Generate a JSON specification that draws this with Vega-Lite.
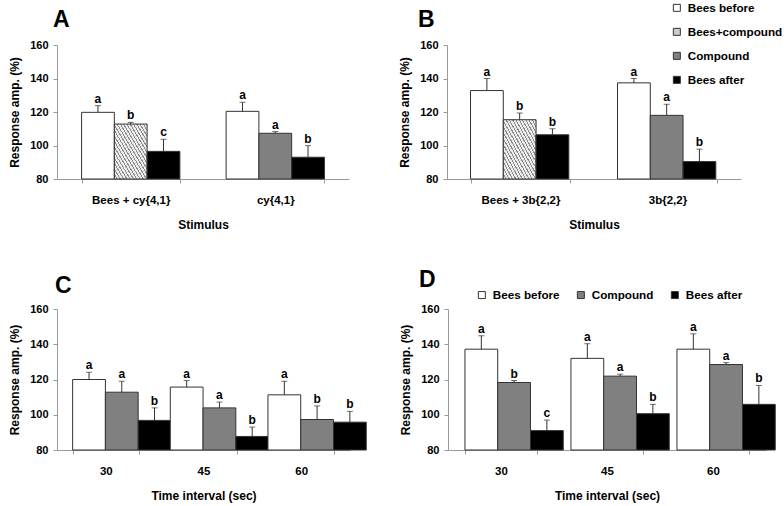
{
  "$schema": "https://vega.github.io/schema/vega-lite/v6.json",
  "padding": {"left": 8, "top": 2, "right": 0, "bottom": 5},
  "background": "white",
  "datasets": {
    "bars": [
      {"panel": "A", "group": "Bees + cy{4,1}", "series": "Bees before", "phase": "Before", "value": 119.8, "upper": 123.8, "label": "a"},
      {"panel": "A", "group": "Bees + cy{4,1}", "series": "Bees+compound", "phase": "During", "value": 112.8, "upper": 113.8, "label": "b"},
      {"panel": "A", "group": "Bees + cy{4,1}", "series": "Bees after", "phase": "After", "value": 96.5, "upper": 103.7, "label": "c"},
      {"panel": "A", "group": "cy{4,1}", "series": "Bees before", "phase": "Before", "value": 120.4, "upper": 125.8, "label": "a"},
      {"panel": "A", "group": "cy{4,1}", "series": "Compound", "phase": "During", "value": 107.3, "upper": 108.3, "label": "a"},
      {"panel": "A", "group": "cy{4,1}", "series": "Bees after", "phase": "After", "value": 93.0, "upper": 99.9, "label": "b"},
      {"panel": "B", "group": "Bees + 3b{2,2}", "series": "Bees before", "phase": "Before", "value": 132.8, "upper": 140.0, "label": "a"},
      {"panel": "B", "group": "Bees + 3b{2,2}", "series": "Bees+compound", "phase": "During", "value": 115.4, "upper": 119.4, "label": "b"},
      {"panel": "B", "group": "Bees + 3b{2,2}", "series": "Bees after", "phase": "After", "value": 106.4, "upper": 110.0, "label": "b"},
      {"panel": "B", "group": "3b{2,2}", "series": "Bees before", "phase": "Before", "value": 137.4, "upper": 140.0, "label": "a"},
      {"panel": "B", "group": "3b{2,2}", "series": "Compound", "phase": "During", "value": 118.0, "upper": 124.6, "label": "a"},
      {"panel": "B", "group": "3b{2,2}", "series": "Bees after", "phase": "After", "value": 90.4, "upper": 97.8, "label": "b"},
      {"panel": "C", "group": "30", "series": "Bees before", "phase": "Before", "value": 120.0, "upper": 124.1, "label": "a"},
      {"panel": "C", "group": "30", "series": "Compound", "phase": "During", "value": 112.8, "upper": 119.0, "label": "a"},
      {"panel": "C", "group": "30", "series": "Bees after", "phase": "After", "value": 96.8, "upper": 103.9, "label": "b"},
      {"panel": "C", "group": "45", "series": "Bees before", "phase": "Before", "value": 115.7, "upper": 119.4, "label": "a"},
      {"panel": "C", "group": "45", "series": "Compound", "phase": "During", "value": 103.9, "upper": 107.2, "label": "a"},
      {"panel": "C", "group": "45", "series": "Bees after", "phase": "After", "value": 87.7, "upper": 93.0, "label": "b"},
      {"panel": "C", "group": "60", "series": "Bees before", "phase": "Before", "value": 111.3, "upper": 119.0, "label": "a"},
      {"panel": "C", "group": "60", "series": "Compound", "phase": "During", "value": 97.3, "upper": 105.0, "label": "b"},
      {"panel": "C", "group": "60", "series": "Bees after", "phase": "After", "value": 95.8, "upper": 101.9, "label": "b"},
      {"panel": "D", "group": "30", "series": "Bees before", "phase": "Before", "value": 137.2, "upper": 144.8, "label": "a"},
      {"panel": "D", "group": "30", "series": "Compound", "phase": "During", "value": 118.3, "upper": 119.4, "label": "b"},
      {"panel": "D", "group": "30", "series": "Bees after", "phase": "After", "value": 91.0, "upper": 97.0, "label": "c"},
      {"panel": "D", "group": "45", "series": "Bees before", "phase": "Before", "value": 132.0, "upper": 140.3, "label": "a"},
      {"panel": "D", "group": "45", "series": "Compound", "phase": "During", "value": 121.9, "upper": 123.0, "label": "a"},
      {"panel": "D", "group": "45", "series": "Bees after", "phase": "After", "value": 100.6, "upper": 105.9, "label": "b"},
      {"panel": "D", "group": "60", "series": "Bees before", "phase": "Before", "value": 137.2, "upper": 145.9, "label": "a"},
      {"panel": "D", "group": "60", "series": "Compound", "phase": "During", "value": 128.5, "upper": 129.6, "label": "a"},
      {"panel": "D", "group": "60", "series": "Bees after", "phase": "After", "value": 105.9, "upper": 116.6, "label": "b"}
    ]
  },
  "config": {
    "font": "Liberation Sans",
    "view": {"stroke": null},
    "title": {"font": "Liberation Sans", "fontSize": 23, "fontWeight": "bold", "anchor": "start", "frame": "group", "color": "#000000"},
    "axis": {"labelFont": "Liberation Sans", "labelFontWeight": "bold", "labelColor": "#000000", "titleFont": "Liberation Sans", "titleFontWeight": "bold", "titleColor": "#000000", "titleFontSize": 12, "domainColor": "#999999", "tickColor": "#999999", "grid": false, "tickSize": 4},
    "axisY": {"labelFontSize": 11, "labelPadding": 5, "titlePadding": 8, "values": [80, 100, 120, 140, 160]},
    "axisX": {"labelFontSize": 11.5, "labelPadding": 11, "titlePadding": 14, "labelAngle": 0, "tickBand": "extent"},
    "legend": {"labelFont": "Liberation Sans", "labelFontWeight": "bold", "labelFontSize": 11.7, "labelColor": "#000000", "symbolType": "square", "symbolSize": 49, "symbolStrokeColor": "#333333", "symbolStrokeWidth": 1, "labelOffset": 5}
  },
  "resolve": {"scale": {"fill": "independent"}, "legend": {"fill": "independent"}},
  "bounds": "flush",
  "spacing": 264,
  "vconcat": [
    {
      "bounds": "flush",
      "spacing": 98,
      "resolve": {"scale": {"fill": "independent"}, "legend": {"fill": "independent"}},
      "hconcat": [
        {
          "width": 292, "height": 134,
          "title": {"text": "A", "dx": -4, "offset": 7},
          "data": {"name": "bars"},
          "transform": [{"filter": "datum.panel === 'A'"}],
          "encoding": {
            "x": {"field": "group", "type": "nominal", "sort": ["Bees + cy{4,1}", "cy{4,1}"], "scale": {"paddingInner": 0.32, "paddingOuter": 0.17}, "axis": {"title": "Stimulus"}},
            "xOffset": {"field": "phase", "type": "nominal", "sort": ["Before", "During", "After"]}
          },
          "layer": [
            {"mark": {"type": "bar", "stroke": "#333333", "strokeWidth": 1},
             "encoding": {
               "y": {"field": "value", "type": "quantitative", "scale": {"domain": [80, 160]}, "axis": {"title": "Response amp. (%)"}},
               "y2": {"datum": 80},
               "fill": {"condition": {"test": "datum.series === 'Bees+compound'", "value": {"gradient": "linear", "x1": 0, "y1": 1, "x2": 1, "y2": 0, "stops": [
{"offset": 0, "color": "#ececec"}, {"offset": 0.0325, "color": "#ececec"}, {"offset": 0.0325, "color": "#8c8c8c"}, {"offset": 0.05, "color": "#8c8c8c"},
{"offset": 0.05, "color": "#ececec"}, {"offset": 0.0825, "color": "#ececec"}, {"offset": 0.0825, "color": "#8c8c8c"}, {"offset": 0.1, "color": "#8c8c8c"},
{"offset": 0.1, "color": "#ececec"}, {"offset": 0.1325, "color": "#ececec"}, {"offset": 0.1325, "color": "#8c8c8c"}, {"offset": 0.15, "color": "#8c8c8c"},
{"offset": 0.15, "color": "#ececec"}, {"offset": 0.1825, "color": "#ececec"}, {"offset": 0.1825, "color": "#8c8c8c"}, {"offset": 0.2, "color": "#8c8c8c"},
{"offset": 0.2, "color": "#ececec"}, {"offset": 0.2325, "color": "#ececec"}, {"offset": 0.2325, "color": "#8c8c8c"}, {"offset": 0.25, "color": "#8c8c8c"},
{"offset": 0.25, "color": "#ececec"}, {"offset": 0.2825, "color": "#ececec"}, {"offset": 0.2825, "color": "#8c8c8c"}, {"offset": 0.3, "color": "#8c8c8c"},
{"offset": 0.3, "color": "#ececec"}, {"offset": 0.3325, "color": "#ececec"}, {"offset": 0.3325, "color": "#8c8c8c"}, {"offset": 0.35, "color": "#8c8c8c"},
{"offset": 0.35, "color": "#ececec"}, {"offset": 0.3825, "color": "#ececec"}, {"offset": 0.3825, "color": "#8c8c8c"}, {"offset": 0.4, "color": "#8c8c8c"},
{"offset": 0.4, "color": "#ececec"}, {"offset": 0.4325, "color": "#ececec"}, {"offset": 0.4325, "color": "#8c8c8c"}, {"offset": 0.45, "color": "#8c8c8c"},
{"offset": 0.45, "color": "#ececec"}, {"offset": 0.4825, "color": "#ececec"}, {"offset": 0.4825, "color": "#8c8c8c"}, {"offset": 0.5, "color": "#8c8c8c"},
{"offset": 0.5, "color": "#ececec"}, {"offset": 0.5325, "color": "#ececec"}, {"offset": 0.5325, "color": "#8c8c8c"}, {"offset": 0.55, "color": "#8c8c8c"},
{"offset": 0.55, "color": "#ececec"}, {"offset": 0.5825, "color": "#ececec"}, {"offset": 0.5825, "color": "#8c8c8c"}, {"offset": 0.6, "color": "#8c8c8c"},
{"offset": 0.6, "color": "#ececec"}, {"offset": 0.6325, "color": "#ececec"}, {"offset": 0.6325, "color": "#8c8c8c"}, {"offset": 0.65, "color": "#8c8c8c"},
{"offset": 0.65, "color": "#ececec"}, {"offset": 0.6825, "color": "#ececec"}, {"offset": 0.6825, "color": "#8c8c8c"}, {"offset": 0.7, "color": "#8c8c8c"},
{"offset": 0.7, "color": "#ececec"}, {"offset": 0.7325, "color": "#ececec"}, {"offset": 0.7325, "color": "#8c8c8c"}, {"offset": 0.75, "color": "#8c8c8c"},
{"offset": 0.75, "color": "#ececec"}, {"offset": 0.7825, "color": "#ececec"}, {"offset": 0.7825, "color": "#8c8c8c"}, {"offset": 0.8, "color": "#8c8c8c"},
{"offset": 0.8, "color": "#ececec"}, {"offset": 0.8325, "color": "#ececec"}, {"offset": 0.8325, "color": "#8c8c8c"}, {"offset": 0.85, "color": "#8c8c8c"},
{"offset": 0.85, "color": "#ececec"}, {"offset": 0.8825, "color": "#ececec"}, {"offset": 0.8825, "color": "#8c8c8c"}, {"offset": 0.9, "color": "#8c8c8c"},
{"offset": 0.9, "color": "#ececec"}, {"offset": 0.9325, "color": "#ececec"}, {"offset": 0.9325, "color": "#8c8c8c"}, {"offset": 0.95, "color": "#8c8c8c"},
{"offset": 0.95, "color": "#ececec"}, {"offset": 0.9825, "color": "#ececec"}, {"offset": 0.9825, "color": "#8c8c8c"}, {"offset": 1, "color": "#8c8c8c"}
               ]}},
                 "field": "series", "type": "nominal", "legend": null, "scale": {"domain": ["Bees before", "Bees+compound", "Compound", "Bees after"], "range": ["#ffffff", "#cccccc", "#808080", "#000000"]}}
             }},
            {"mark": {"type": "rule", "color": "#333333", "strokeWidth": 1},
             "encoding": {"y": {"field": "value", "type": "quantitative", "scale": {"domain": [80, 160]}}, "y2": {"field": "upper"}}},
            {"mark": {"type": "tick", "color": "#333333", "size": 6, "thickness": 1},
             "encoding": {"y": {"field": "upper", "type": "quantitative", "scale": {"domain": [80, 160]}}}},
            {"mark": {"type": "text", "baseline": "alphabetic", "dy": -3, "fontSize": 12, "fontWeight": "bold", "color": "#000000"},
             "encoding": {"y": {"field": "upper", "type": "quantitative", "scale": {"domain": [80, 160]}}, "text": {"field": "label"}}}
          ]
        },
        {
          "width": 294, "height": 134,
          "title": {"text": "B", "dx": -29, "offset": -30},
          "data": {"name": "bars"},
          "transform": [{"filter": "datum.panel === 'B'"}],
          "encoding": {
            "x": {"field": "group", "type": "nominal", "sort": ["Bees + 3b{2,2}", "3b{2,2}"], "scale": {"paddingInner": 0.32, "paddingOuter": 0.16}, "axis": {"title": "Stimulus"}},
            "xOffset": {"field": "phase", "type": "nominal", "sort": ["Before", "During", "After"]}
          },
          "layer": [
            {"mark": {"type": "bar", "stroke": "#333333", "strokeWidth": 1},
             "encoding": {
               "y": {"field": "value", "type": "quantitative", "scale": {"domain": [80, 160]}, "axis": {"title": "Response amp. (%)"}},
               "y2": {"datum": 80},
               "fill": {"condition": {"test": "datum.series === 'Bees+compound'", "value": {"gradient": "linear", "x1": 0, "y1": 1, "x2": 1, "y2": 0, "stops": [
{"offset": 0, "color": "#ececec"}, {"offset": 0.0325, "color": "#ececec"}, {"offset": 0.0325, "color": "#8c8c8c"}, {"offset": 0.05, "color": "#8c8c8c"},
{"offset": 0.05, "color": "#ececec"}, {"offset": 0.0825, "color": "#ececec"}, {"offset": 0.0825, "color": "#8c8c8c"}, {"offset": 0.1, "color": "#8c8c8c"},
{"offset": 0.1, "color": "#ececec"}, {"offset": 0.1325, "color": "#ececec"}, {"offset": 0.1325, "color": "#8c8c8c"}, {"offset": 0.15, "color": "#8c8c8c"},
{"offset": 0.15, "color": "#ececec"}, {"offset": 0.1825, "color": "#ececec"}, {"offset": 0.1825, "color": "#8c8c8c"}, {"offset": 0.2, "color": "#8c8c8c"},
{"offset": 0.2, "color": "#ececec"}, {"offset": 0.2325, "color": "#ececec"}, {"offset": 0.2325, "color": "#8c8c8c"}, {"offset": 0.25, "color": "#8c8c8c"},
{"offset": 0.25, "color": "#ececec"}, {"offset": 0.2825, "color": "#ececec"}, {"offset": 0.2825, "color": "#8c8c8c"}, {"offset": 0.3, "color": "#8c8c8c"},
{"offset": 0.3, "color": "#ececec"}, {"offset": 0.3325, "color": "#ececec"}, {"offset": 0.3325, "color": "#8c8c8c"}, {"offset": 0.35, "color": "#8c8c8c"},
{"offset": 0.35, "color": "#ececec"}, {"offset": 0.3825, "color": "#ececec"}, {"offset": 0.3825, "color": "#8c8c8c"}, {"offset": 0.4, "color": "#8c8c8c"},
{"offset": 0.4, "color": "#ececec"}, {"offset": 0.4325, "color": "#ececec"}, {"offset": 0.4325, "color": "#8c8c8c"}, {"offset": 0.45, "color": "#8c8c8c"},
{"offset": 0.45, "color": "#ececec"}, {"offset": 0.4825, "color": "#ececec"}, {"offset": 0.4825, "color": "#8c8c8c"}, {"offset": 0.5, "color": "#8c8c8c"},
{"offset": 0.5, "color": "#ececec"}, {"offset": 0.5325, "color": "#ececec"}, {"offset": 0.5325, "color": "#8c8c8c"}, {"offset": 0.55, "color": "#8c8c8c"},
{"offset": 0.55, "color": "#ececec"}, {"offset": 0.5825, "color": "#ececec"}, {"offset": 0.5825, "color": "#8c8c8c"}, {"offset": 0.6, "color": "#8c8c8c"},
{"offset": 0.6, "color": "#ececec"}, {"offset": 0.6325, "color": "#ececec"}, {"offset": 0.6325, "color": "#8c8c8c"}, {"offset": 0.65, "color": "#8c8c8c"},
{"offset": 0.65, "color": "#ececec"}, {"offset": 0.6825, "color": "#ececec"}, {"offset": 0.6825, "color": "#8c8c8c"}, {"offset": 0.7, "color": "#8c8c8c"},
{"offset": 0.7, "color": "#ececec"}, {"offset": 0.7325, "color": "#ececec"}, {"offset": 0.7325, "color": "#8c8c8c"}, {"offset": 0.75, "color": "#8c8c8c"},
{"offset": 0.75, "color": "#ececec"}, {"offset": 0.7825, "color": "#ececec"}, {"offset": 0.7825, "color": "#8c8c8c"}, {"offset": 0.8, "color": "#8c8c8c"},
{"offset": 0.8, "color": "#ececec"}, {"offset": 0.8325, "color": "#ececec"}, {"offset": 0.8325, "color": "#8c8c8c"}, {"offset": 0.85, "color": "#8c8c8c"},
{"offset": 0.85, "color": "#ececec"}, {"offset": 0.8825, "color": "#ececec"}, {"offset": 0.8825, "color": "#8c8c8c"}, {"offset": 0.9, "color": "#8c8c8c"},
{"offset": 0.9, "color": "#ececec"}, {"offset": 0.9325, "color": "#ececec"}, {"offset": 0.9325, "color": "#8c8c8c"}, {"offset": 0.95, "color": "#8c8c8c"},
{"offset": 0.95, "color": "#ececec"}, {"offset": 0.9825, "color": "#ececec"}, {"offset": 0.9825, "color": "#8c8c8c"}, {"offset": 1, "color": "#8c8c8c"}
               ]}},
                 "field": "series", "type": "nominal",
                 "legend": {"orient": "none", "legendX": 224, "legendY": -43, "direction": "vertical", "title": null, "rowPadding": 11},
                 "scale": {"domain": ["Bees before", "Bees+compound", "Compound", "Bees after"], "range": ["#ffffff", "#cccccc", "#808080", "#000000"]}}
             }},
            {"mark": {"type": "rule", "color": "#333333", "strokeWidth": 1},
             "encoding": {"y": {"field": "value", "type": "quantitative", "scale": {"domain": [80, 160]}}, "y2": {"field": "upper"}}},
            {"mark": {"type": "tick", "color": "#333333", "size": 6, "thickness": 1},
             "encoding": {"y": {"field": "upper", "type": "quantitative", "scale": {"domain": [80, 160]}}}},
            {"mark": {"type": "text", "baseline": "alphabetic", "dy": -3, "fontSize": 12, "fontWeight": "bold", "color": "#000000"},
             "encoding": {"y": {"field": "upper", "type": "quantitative", "scale": {"domain": [80, 160]}}, "text": {"field": "label"}}}
          ]
        }
      ]
    },
    {
      "bounds": "flush",
      "spacing": 98,
      "resolve": {"scale": {"fill": "independent"}, "legend": {"fill": "independent"}},
      "hconcat": [
        {
          "width": 293, "height": 141,
          "title": {"text": "C", "dx": -2, "offset": 5},
          "data": {"name": "bars"},
          "transform": [{"filter": "datum.panel === 'C'"}],
          "encoding": {
            "x": {"field": "group", "type": "nominal", "sort": ["30", "45", "60"], "scale": {"paddingInner": 0.32, "paddingOuter": 0.16}, "axis": {"title": "Time interval (sec)"}},
            "xOffset": {"field": "phase", "type": "nominal", "sort": ["Before", "During", "After"]}
          },
          "layer": [
            {"mark": {"type": "bar", "stroke": "#333333", "strokeWidth": 1},
             "encoding": {
               "y": {"field": "value", "type": "quantitative", "scale": {"domain": [80, 160]}, "axis": {"title": "Response amp. (%)"}},
               "y2": {"datum": 80},
               "fill": {"field": "series", "type": "nominal", "legend": null, "scale": {"domain": ["Bees before", "Compound", "Bees after"], "range": ["#ffffff", "#808080", "#000000"]}}
             }},
            {"mark": {"type": "rule", "color": "#333333", "strokeWidth": 1},
             "encoding": {"y": {"field": "value", "type": "quantitative", "scale": {"domain": [80, 160]}}, "y2": {"field": "upper"}}},
            {"mark": {"type": "tick", "color": "#333333", "size": 6, "thickness": 1},
             "encoding": {"y": {"field": "upper", "type": "quantitative", "scale": {"domain": [80, 160]}}}},
            {"mark": {"type": "text", "baseline": "alphabetic", "dy": -3, "fontSize": 12, "fontWeight": "bold", "color": "#000000"},
             "encoding": {"y": {"field": "upper", "type": "quantitative", "scale": {"domain": [80, 160]}}, "text": {"field": "label"}}}
          ]
        },
        {
          "width": 318, "height": 141,
          "title": {"text": "D", "dx": -29, "offset": -3},
          "data": {"name": "bars"},
          "transform": [{"filter": "datum.panel === 'D'"}],
          "encoding": {
            "x": {"field": "group", "type": "nominal", "sort": ["30", "45", "60"], "scale": {"paddingInner": 0.32, "paddingOuter": 0.16}, "axis": {"title": "Time interval (sec)"}},
            "xOffset": {"field": "phase", "type": "nominal", "sort": ["Before", "During", "After"]}
          },
          "layer": [
            {"mark": {"type": "bar", "stroke": "#333333", "strokeWidth": 1},
             "encoding": {
               "y": {"field": "value", "type": "quantitative", "scale": {"domain": [80, 160]}, "axis": {"title": "Response amp. (%)"}},
               "y2": {"datum": 80},
               "fill": {"field": "series", "type": "nominal",
                 "legend": {"orient": "none", "legendX": 28, "legendY": -20, "direction": "horizontal", "title": null, "columnPadding": 15},
                 "scale": {"domain": ["Bees before", "Compound", "Bees after"], "range": ["#ffffff", "#808080", "#000000"]}}
             }},
            {"mark": {"type": "rule", "color": "#333333", "strokeWidth": 1},
             "encoding": {"y": {"field": "value", "type": "quantitative", "scale": {"domain": [80, 160]}}, "y2": {"field": "upper"}}},
            {"mark": {"type": "tick", "color": "#333333", "size": 6, "thickness": 1},
             "encoding": {"y": {"field": "upper", "type": "quantitative", "scale": {"domain": [80, 160]}}}},
            {"mark": {"type": "text", "baseline": "alphabetic", "dy": -3, "fontSize": 12, "fontWeight": "bold", "color": "#000000"},
             "encoding": {"y": {"field": "upper", "type": "quantitative", "scale": {"domain": [80, 160]}}, "text": {"field": "label"}}}
          ]
        }
      ]
    }
  ]
}
